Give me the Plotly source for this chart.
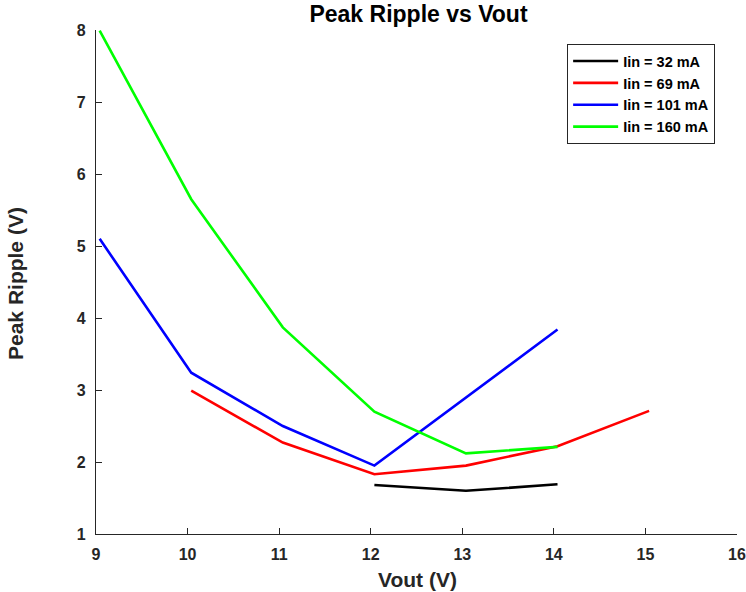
import plotly.graph_objects as go

names = ["Iin = 32 mA", "Iin = 69 mA", "Iin = 101 mA", "Iin = 160 mA"]
x_32 = [12.04, 13.04, 14.04]
y_32 = [1.68, 1.60, 1.69]
x_69 = [10.04, 11.04, 12.04, 13.04, 14.04, 15.04]
y_69 = [2.99, 2.27, 1.83, 1.95, 2.22, 2.71]
x_101 = [9.04, 10.04, 11.04, 12.04, 14.04]
y_101 = [5.10, 3.24, 2.50, 1.95, 3.84]
x_160 = [9.04, 10.04, 11.04, 12.04, 13.04, 14.04]
y_160 = [7.99, 5.65, 3.87, 2.70, 2.12, 2.21]
colors = ["#000000", "#ff0000", "#0000ff", "#00ff00"]
x_ticks = list(range(9, 17))
y_ticks = list(range(1, 9))

font = "Liberation Sans, Arial, sans-serif"
axc = "#262626"
fig = go.Figure()
for nm, xs, ys, c in zip(names, [x_32, x_69, x_101, x_160], [y_32, y_69, y_101, y_160], colors):
    fig.add_trace(go.Scatter(x=xs, y=ys, mode="lines", name="<b>" + nm + "</b>",
                             line=dict(color=c, width=2.6)))

ax_common = dict(showgrid=False, zeroline=False, showline=True, linecolor=axc,
                 linewidth=1.3, ticks="inside", ticklen=6, tickcolor=axc, tickwidth=1.3,
                 tickfont=dict(size=16, color=axc, family=font), automargin=False)

fig.update_layout(
    width=746, height=592,
    margin=dict(l=96, r=9, t=30, b=58),
    paper_bgcolor="white", plot_bgcolor="white",
    font=dict(family=font, color=axc),
    title=dict(text="<b>Peak Ripple vs Vout</b>", x=418.5 / 746, xanchor="center",
               y=1 - 14 / 592, yanchor="middle", font=dict(size=23, color="black")),
    xaxis=dict(range=[9, 16], tickvals=x_ticks,
               ticktext=["<b>%d</b>" % v for v in x_ticks], ticklabelstandoff=6, **ax_common),
    yaxis=dict(range=[1, 8], tickvals=y_ticks,
               ticktext=["<b>%d</b>" % v for v in y_ticks], ticklabelstandoff=6, **ax_common),
    legend=dict(x=0.735, y=0.972, xanchor="left", yanchor="top",
                bgcolor="white", bordercolor=axc, borderwidth=1, itemwidth=45,
                font=dict(size=14.5, color="black"), tracegroupgap=0),
    annotations=[
        dict(text="<b>Vout (V)</b>", xref="paper", yref="paper",
             x=(417.5 - 96) / 641, y=-(579.5 - 534) / 504, xanchor="center", yanchor="middle",
             showarrow=False, font=dict(size=21, color=axc, family=font)),
        dict(text="<b>Peak Ripple (V)</b>", xref="paper", yref="paper",
             x=-(96 - 15) / 641, y=(534 - 284) / 504, xanchor="center", yanchor="middle",
             textangle=-90, showarrow=False, font=dict(size=21, color=axc, family=font)),
    ],
)
fig.write_html("out.html", config={"displayModeBar": False},
               post_script="document.body.style.margin='0px';")
